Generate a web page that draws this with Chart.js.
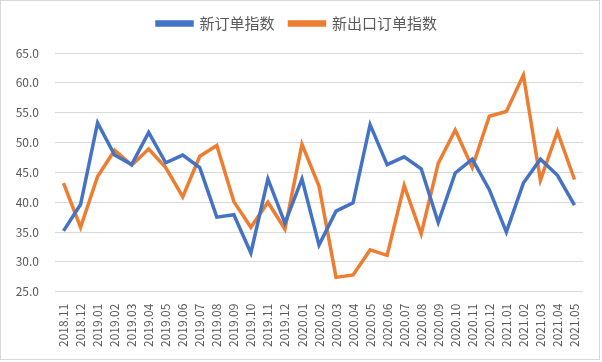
<!DOCTYPE html>
<html lang="zh-CN">
<head>
    <meta charset="UTF-8">
    <title>新订单指数</title>
    <script src="https://cdn.jsdelivr.net/npm/chart.js"></script>
    <style>
        body { margin: 0; background: #fff; }
        .frame { width: 598px; height: 358px; border: 1px solid #d9d9d9; }
    </style>
</head>
<body>
    <div class="frame"><canvas id="orderChart" width="596" height="356"></canvas></div>

    <script>
        const months = [
            "2018.11", "2018.12", "2019.01", "2019.02", "2019.03", "2019.04", "2019.05", "2019.06",
            "2019.07", "2019.08", "2019.09", "2019.10", "2019.11", "2019.12", "2020.01", "2020.02",
            "2020.03", "2020.04", "2020.05", "2020.06", "2020.07", "2020.08", "2020.09", "2020.10",
            "2020.11", "2020.12", "2021.01", "2021.02", "2021.03", "2021.04", "2021.05"
        ];
        const newOrders = [
            35.2, 39.6, 53.3, 47.9, 46.3, 51.7, 46.6, 47.9,
            45.8, 37.5, 37.9, 31.5, 43.9, 36.5, 43.9, 32.8,
            38.5, 39.9, 53.0, 46.3, 47.6, 45.6, 36.6, 44.9,
            47.2, 42.1, 35.0, 43.2, 47.2, 44.5, 39.5
        ];
        const newExportOrders = [
            43.2, 35.8, 44.3, 48.7, 46.2, 48.9, 45.8, 40.9,
            47.7, 49.5, 40.1, 35.8, 40.0, 35.5, 49.7, 42.7,
            27.4, 27.8, 32.0, 31.1, 42.8, 34.7, 46.5, 52.1,
            45.8, 54.4, 55.2, 61.3, 43.7, 51.8, 43.8
        ];

        const textColor = "#595959";
        const fontFamily = "'Noto Sans CJK SC', 'Noto Sans', sans-serif";

        // extra space under the legend, like the Excel original
        const legendGap = {
            id: "legendGap",
            beforeInit(chart) {
                const fit = chart.legend.fit;
                chart.legend.fit = function () {
                    fit.call(this);
                    this.height += 12;
                };
            }
        };

        new Chart(document.getElementById("orderChart"), {
            type: "line",
            data: {
                labels: months,
                datasets: [
                    {
                        label: "新订单指数",
                        data: newOrders,
                        borderColor: "#4472C4",
                        backgroundColor: "#4472C4",
                        borderWidth: 3.5,
                        pointRadius: 0,
                        tension: 0,
                        fill: false
                    },
                    {
                        label: "新出口订单指数",
                        data: newExportOrders,
                        borderColor: "#ED7D31",
                        backgroundColor: "#ED7D31",
                        borderWidth: 3.5,
                        pointRadius: 0,
                        tension: 0,
                        fill: false
                    }
                ]
            },
            options: {
                responsive: false,
                animation: false,
                layout: { padding: { left: 10, right: 14, top: 0, bottom: 6 } },
                plugins: {
                    legend: {
                        position: "top",
                        labels: {
                            color: textColor,
                            font: { family: fontFamily, size: 15 },
                            boxWidth: 35,
                            boxHeight: 3,
                            padding: 15
                        }
                    },
                    tooltip: { enabled: false }
                },
                scales: {
                    x: {
                        offset: true,
                        grid: { display: false },
                        border: { display: false },
                        ticks: {
                            color: textColor,
                            font: { family: fontFamily, size: 12 },
                            minRotation: 90,
                            maxRotation: 90,
                            autoSkip: false,
                            padding: 4
                        }
                    },
                    y: {
                        min: 25,
                        max: 65,
                        afterFit: scale => { scale.width = 44; },
                        grid: { color: "#d9d9d9", lineWidth: 1, drawTicks: false },
                        border: { display: false },
                        ticks: {
                            stepSize: 5,
                            color: textColor,
                            font: { family: fontFamily, size: 12 },
                            padding: 16,
                            callback: v => v.toFixed(1)
                        }
                    }
                }
            },
            plugins: [legendGap]
        });
    </script>
</body>
</html>
